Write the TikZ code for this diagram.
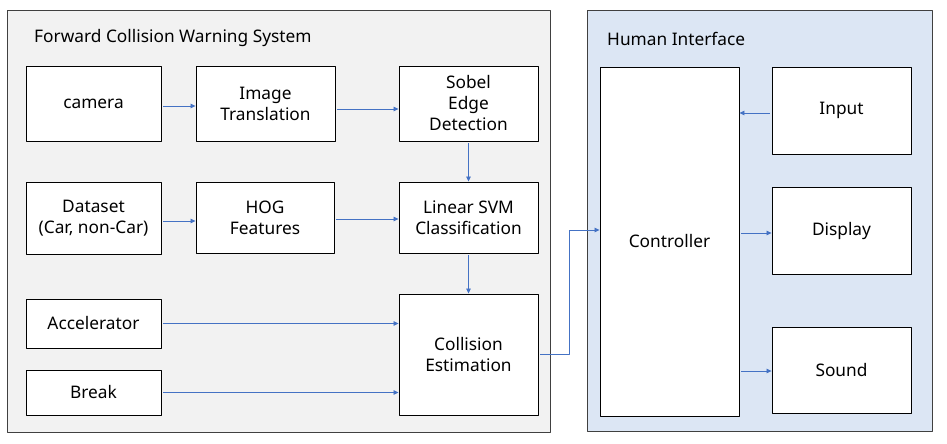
\documentclass[tikz,border=0pt]{standalone}
\usepackage{fontspec}
\setmainfont{Noto Sans}
\usetikzlibrary{arrows.meta}
\definecolor{panelgray}{RGB}{242,242,242}
\definecolor{panelblue}{RGB}{220,230,244}
\definecolor{linkblue}{RGB}{68,114,196}
\begin{document}
\begin{tikzpicture}[x=1pt, y=-1pt, font=\fontsize{17.3}{21}\selectfont, line join=round,
		blk/.style={draw=black, fill=white, line width=.9pt, align=center, inner sep=0pt},
		panel/.style={draw=black!75, line width=.9pt},
		link/.style={draw=linkblue, line width=.8pt, -{Triangle[length=5pt,width=4.5pt]}, shorten <=2pt}]
		\useasboundingbox (0,0) rectangle (947,444);
		% panels
		\draw[panel, fill=panelgray] (7,10) rectangle (550,432);
		\draw[panel, fill=panelblue] (587,10) rectangle (932,431);
		\node[anchor=west, inner sep=0pt] (fcws) at (34,38) {Forward Collision Warning System};
		\node[anchor=west, inner sep=0pt] (hif) at (607,39) {Human Interface};
		% forward collision warning system
		\node[blk, minimum width=135, minimum height=75] (camera) at (93.5,103.5) {camera};
		\node[blk, minimum width=139, minimum height=75] (imgtr) at (265.5,103.5) {Image\\Translation};
		\node[blk, minimum width=139, minimum height=75] (sobel) at (468.5,103.5) {Sobel\\Edge\\Detection};
		\node[blk, minimum width=135, minimum height=72] (dataset) at (93.5,218) {Dataset\\(Car, non-Car)};
		\node[blk, minimum width=138, minimum height=71] (hog) at (265,217.5) {HOG\\Features};
		\node[blk, minimum width=139, minimum height=71] (svm) at (468.5,217.5) {Linear SVM\\Classification};
		\node[blk, minimum width=135, minimum height=49] (accel) at (93.5,323.5) {Accelerator};
		\node[blk, minimum width=135, minimum height=45] (brk) at (93.5,392.5) {Break};
		\node[blk, minimum width=139, minimum height=121] (collision) at (468.5,354.5) {Collision\\Estimation};
		% human interface
		\node[blk, minimum width=139, minimum height=349] (ctrl) at (669.5,241.5) {Controller};
		\node[blk, minimum width=139, minimum height=87] (input) at (841.5,110.5) {Input};
		\node[blk, minimum width=139, minimum height=87] (display) at (841.5,230.5) {Display};
		\node[blk, minimum width=139, minimum height=86] (sound) at (841.5,370) {Sound};
		% connectors
		\draw[link] ([yshift=-2.5]camera.east) -- ([yshift=-2.5]imgtr.west);
		\draw[link] ([yshift=-5.5]imgtr.east) -- ([yshift=-5.5]sobel.west);
		\draw[link] (sobel) -- (svm);
		\draw[link] ([yshift=-3]dataset.east) -- ([yshift=-3]dataset.east -| hog.west);
		\draw[link] ([yshift=-1.5]hog.east) -- ([yshift=-1.5]svm.west);
		\draw[link] (svm) -- (collision);
		\draw[link] (accel.east) -- (accel.east -| collision.west);
		\draw[link] (brk.east) -- (brk.east -| collision.west);
		\coordinate (bend) at (569,230);
		\draw[link] (collision.east) -- (collision.east -| bend) -- (bend) -- (bend -| ctrl.west);
		\draw[link] ([yshift=-2.5]input.west) -- ([yshift=-2.5]input.west -| ctrl.east);
		\draw[link] ([yshift=-2.5]display.west -| ctrl.east) -- ([yshift=-2.5]display.west);
		\draw[link] ([yshift=-1]sound.west -| ctrl.east) -- ([yshift=-1]sound.west);
	\end{tikzpicture}
\end{document}
